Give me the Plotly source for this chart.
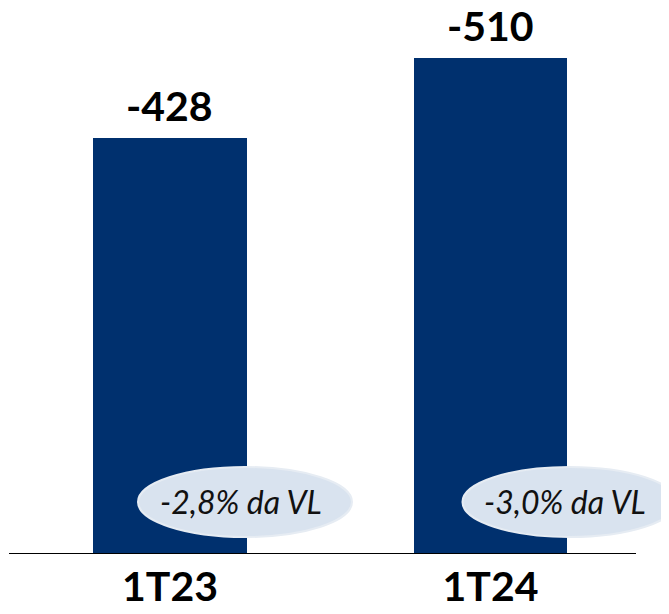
import plotly.graph_objects as go

categories = ["1T23", "1T24"]
values = [-428, -510]
pct_labels = ["-2,8% da VL", "-3,0% da VL"]

BAR_COLOR = "#00306E"
ELLIPSE_FILL = "#D9E3EF"

x_pos = list(range(len(categories)))
heights = [abs(v) for v in values]

fig = go.Figure()
fig.add_trace(go.Bar(
    x=x_pos,
    y=heights,
    width=0.48,
    marker=dict(color=BAR_COLOR, line=dict(width=0)),
    hoverinfo="skip",
))

# value labels above bars
for i, v in enumerate(values):
    fig.add_annotation(
        x=x_pos[i], y=heights[i], xref="x", yref="y",
        yanchor="middle", yshift=32,
        text="<b>" + str(v) + "</b>",
        showarrow=False,
        font=dict(family="Lato", size=41, color="#000000"),
    )

# ellipse offsets (pixels) relative to each bar centre
ell_dx = [75, 79]
txt_dx = [71, 75]
ell_w = 214
ell_h = 70
ell_cy = 52

for i, lab in enumerate(pct_labels):
    fig.add_shape(
        type="circle", layer="above",
        xref="x", yref="y",
        xsizemode="pixel", ysizemode="pixel",
        xanchor=x_pos[i], yanchor=0,
        x0=ell_dx[i] - ell_w / 2, x1=ell_dx[i] + ell_w / 2,
        y0=ell_cy - ell_h / 2, y1=ell_cy + ell_h / 2,
        fillcolor=ELLIPSE_FILL,
        line=dict(color="#E6ECF3", width=2),
    )
    fig.add_annotation(
        x=x_pos[i], y=0, xref="x", yref="y",
        xshift=txt_dx[i], yshift=ell_cy + 1,
        text="<i>" + lab + "</i>",
        showarrow=False,
        font=dict(family="Lato", size=32, color="#111111"),
    )

# baseline (category axis line), ends short of the right edge
fig.add_shape(
    type="line", layer="above",
    xref="paper", yref="y",
    x0=0, x1=0.95, y0=0, y1=0,
    line=dict(color="#000000", width=2),
)

fig.update_layout(
    width=661, height=606,
    margin=dict(l=1, r=0, t=0, b=60),
    paper_bgcolor="#FFFFFF",
    plot_bgcolor="rgba(0,0,0,0)",
    showlegend=False,
    bargap=0,
    xaxis=dict(
        range=[-0.5023, 1.5570],
        tickmode="array",
        tickvals=x_pos,
        ticktext=["<b>" + c + "</b>" for c in categories],
        tickfont=dict(family="Lato", size=41, color="#000000"),
        ticklabelstandoff=5,
        showline=False,
        showgrid=False, zeroline=False, ticks="",
    ),
    yaxis=dict(
        range=[0, 561.4],
        visible=False,
        showgrid=False, zeroline=False,
    ),
)

fig.write_html("out.html")
